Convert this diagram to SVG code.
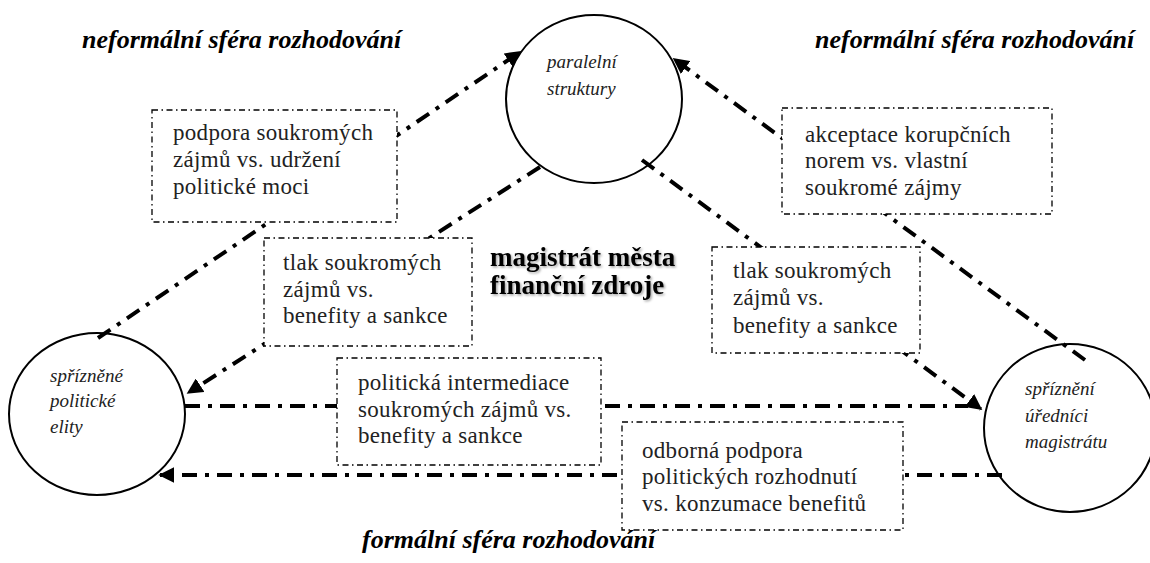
<svg xmlns="http://www.w3.org/2000/svg" width="1150" height="563" viewBox="0 0 1150 563">
<style>
.hdr{font-family:"Liberation Serif","Times New Roman","DejaVu Serif",serif;font-weight:bold;font-style:italic;font-size:26px;fill:#000}
.ctext{font-family:"Liberation Serif","Times New Roman","DejaVu Serif",serif;font-style:italic;font-size:19px;fill:#222}
.btext{font-family:"Liberation Serif","Times New Roman","DejaVu Serif",serif;font-size:23px;letter-spacing:0.3px;fill:#222}
.title{font-family:"Liberation Serif","Times New Roman","DejaVu Serif",serif;font-weight:bold;font-size:27px;fill:#000}
.node{fill:#fff;stroke:#000;stroke-width:2}
.box{fill:#fff;stroke:#000;stroke-width:1.3;stroke-dasharray:6 3.5 1.5 3.5}
.conn{fill:none;stroke:#000;stroke-width:4;stroke-dasharray:15 8 4 8}
</style>
<defs>
<marker id="arr" viewBox="0 0 10 10" refX="9" refY="5" markerWidth="4" markerHeight="4" orient="auto" markerUnits="strokeWidth">
<path d="M0,0 L10,5 L0,10 Z" fill="#000"/>
</marker>
<filter id="sh" x="-10%" y="-20%" width="130%" height="150%">
<feDropShadow dx="1.5" dy="1.5" stdDeviation="1" flood-color="#000" flood-opacity="0.35"/>
</filter>
</defs>

<g id="headers">
<text class="hdr" x="82" y="48">neformální sféra rozhodování</text>
<text class="hdr" x="815" y="48">neformální sféra rozhodování</text>
<text class="hdr" x="362" y="548">formální sféra rozhodování</text>
</g>

<g id="node-paralelni">
<ellipse class="node" cx="594" cy="99" rx="88" ry="84"/>
<text class="ctext" x="547" y="68">paralelní</text>
<text class="ctext" x="547" y="95">struktury</text>
</g>
<g id="node-elity">
<ellipse class="node" cx="97" cy="414" rx="88" ry="81"/>
<text class="ctext" x="50" y="382">spřízněné</text>
<text class="ctext" x="50" y="407">politické</text>
<text class="ctext" x="50" y="433">elity</text>
</g>
<g id="node-urednici">
<ellipse class="node" cx="1070" cy="428" rx="86" ry="84"/>
<text class="ctext" x="1025" y="395">spříznění</text>
<text class="ctext" x="1025" y="422">úředníci</text>
<text class="ctext" x="1025" y="448">magistrátu</text>
</g>

<g id="connectors">
<line class="conn" x1="98" y1="338" x2="520" y2="52" marker-end="url(#arr)"/>
<line class="conn" x1="540" y1="167" x2="188" y2="393" marker-end="url(#arr)"/>
<line class="conn" x1="1085" y1="360" x2="674" y2="59" marker-end="url(#arr)"/>
<line class="conn" x1="642" y1="160" x2="981" y2="409" marker-end="url(#arr)"/>
<line class="conn" x1="185" y1="406" x2="968" y2="406"/>
<line class="conn" x1="1002" y1="475" x2="160" y2="475" marker-end="url(#arr)"/>
</g>

<g id="box-podpora">
<rect class="box" x="152" y="110" width="245" height="112"/>
<text class="btext" x="173" y="140">podpora soukromých</text>
<text class="btext" x="173" y="167">zájmů vs. udržení</text>
<text class="btext" x="173" y="194">politické moci</text>
</g>
<g id="box-tlak-left">
<rect class="box" x="264" y="238" width="208" height="108"/>
<text class="btext" x="283" y="270">tlak soukromých</text>
<text class="btext" x="283" y="297">zájmů vs.</text>
<text class="btext" x="283" y="323">benefity a sankce</text>
</g>
<g id="box-akceptace">
<rect class="box" x="782" y="108" width="270" height="106"/>
<text class="btext" x="805" y="142">akceptace korupčních</text>
<text class="btext" x="805" y="168">norem vs. vlastní</text>
<text class="btext" x="805" y="195">soukromé zájmy</text>
</g>
<g id="box-tlak-right">
<rect class="box" x="712" y="247" width="208" height="106"/>
<text class="btext" x="733" y="278">tlak soukromých</text>
<text class="btext" x="733" y="305">zájmů vs.</text>
<text class="btext" x="733" y="333">benefity a sankce</text>
</g>
<g id="box-intermediace">
<rect class="box" x="337" y="358" width="264" height="107"/>
<text class="btext" x="358" y="390">politická intermediace</text>
<text class="btext" x="358" y="417">soukromých zájmů vs.</text>
<text class="btext" x="358" y="443">benefity a sankce</text>
</g>
<g id="box-odborna">
<rect class="box" x="622" y="422" width="281" height="108"/>
<text class="btext" x="642" y="458">odborná podpora</text>
<text class="btext" x="642" y="484">politických rozhodnutí</text>
<text class="btext" x="642" y="511">vs. konzumace benefitů</text>
</g>

<g id="title" filter="url(#sh)">
<text class="title" x="490" y="266">magistrát města</text>
<text class="title" x="490" y="294">finanční zdroje</text>
</g>
</svg>
